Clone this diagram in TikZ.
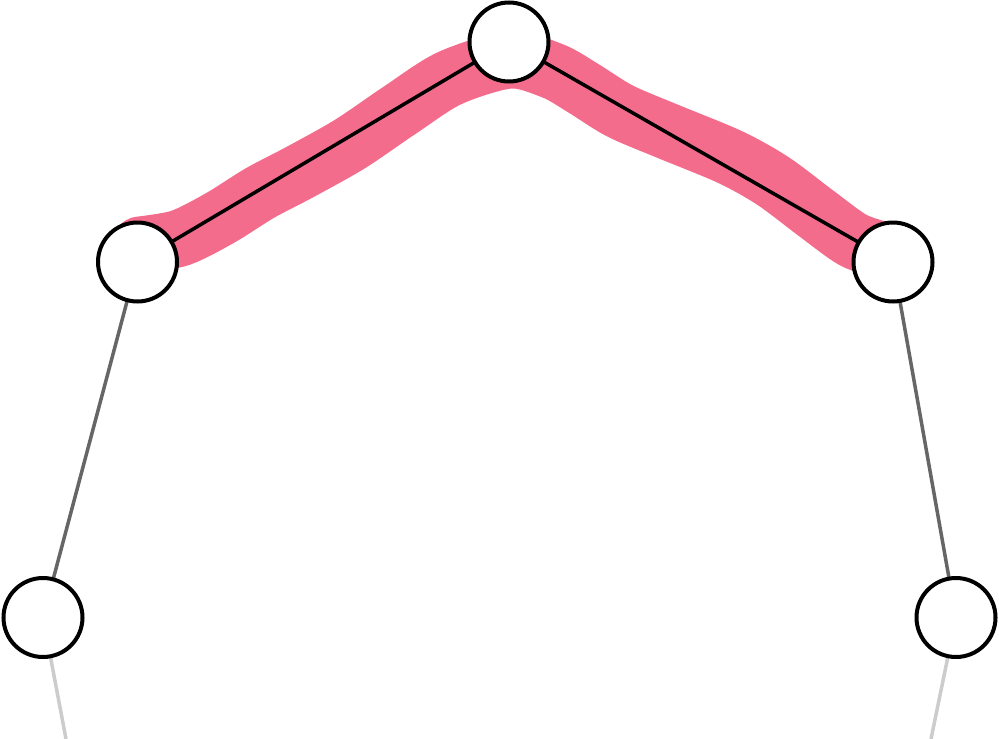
\documentclass[tikz,border=0pt]{standalone}
\definecolor{bandpink}{RGB}{243,108,140}
\definecolor{edgegray}{RGB}{102,102,102}
\definecolor{tailgray}{RGB}{204,204,204}
\begin{document}
\begin{tikzpicture}[x=1pt,y=-1pt,
  vertex/.style={circle, draw=black, fill=white, line width=4pt, minimum size=79pt, inner sep=0pt},
  topedge/.style={draw=black, line width=3.5pt},
  sideedge/.style={draw=edgegray, line width=3.5pt},
  tailedge/.style={draw=tailgray, line width=3.5pt},
  band/.style={draw=bandpink, line width=57pt, line cap=round, line join=round}]
\useasboundingbox (0,0) rectangle (999,739);
% highlighted band
\draw[band] plot[smooth, tension=0.5] coordinates {
  (140,245) (180,238) (220,218) (260,193) (300,172) (350,144) (400,110)
  (450,78) (510,60) (553,71) (583,88) (620,111) (667,131) (730,157)
  (773,181) (817,214) (853,240) (882,250)};
% node positions
\coordinate (ptop) at (509,42);
\coordinate (pl) at (137.5,262);
\coordinate (pr) at (893,262);
\coordinate (pbl) at (43,617.5);
\coordinate (pbr) at (956,617.5);
\coordinate (blend) at (66,739);
\coordinate (brend) at (931,739);
% edges
\draw[topedge] (pl) -- (ptop);
\draw[topedge] (ptop) -- (pr);
\draw[sideedge] (pl) -- (pbl);
\draw[sideedge] (pr) -- (pbr);
\draw[tailedge] (pbl) -- (blend);
\draw[tailedge] (pbr) -- (brend);
% vertices
\node[vertex] (top) at (ptop) {};
\node[vertex] (left) at (pl) {};
\node[vertex] (right) at (pr) {};
\node[vertex] (bleft) at (pbl) {};
\node[vertex] (bright) at (pbr) {};
\end{tikzpicture}
\end{document}
